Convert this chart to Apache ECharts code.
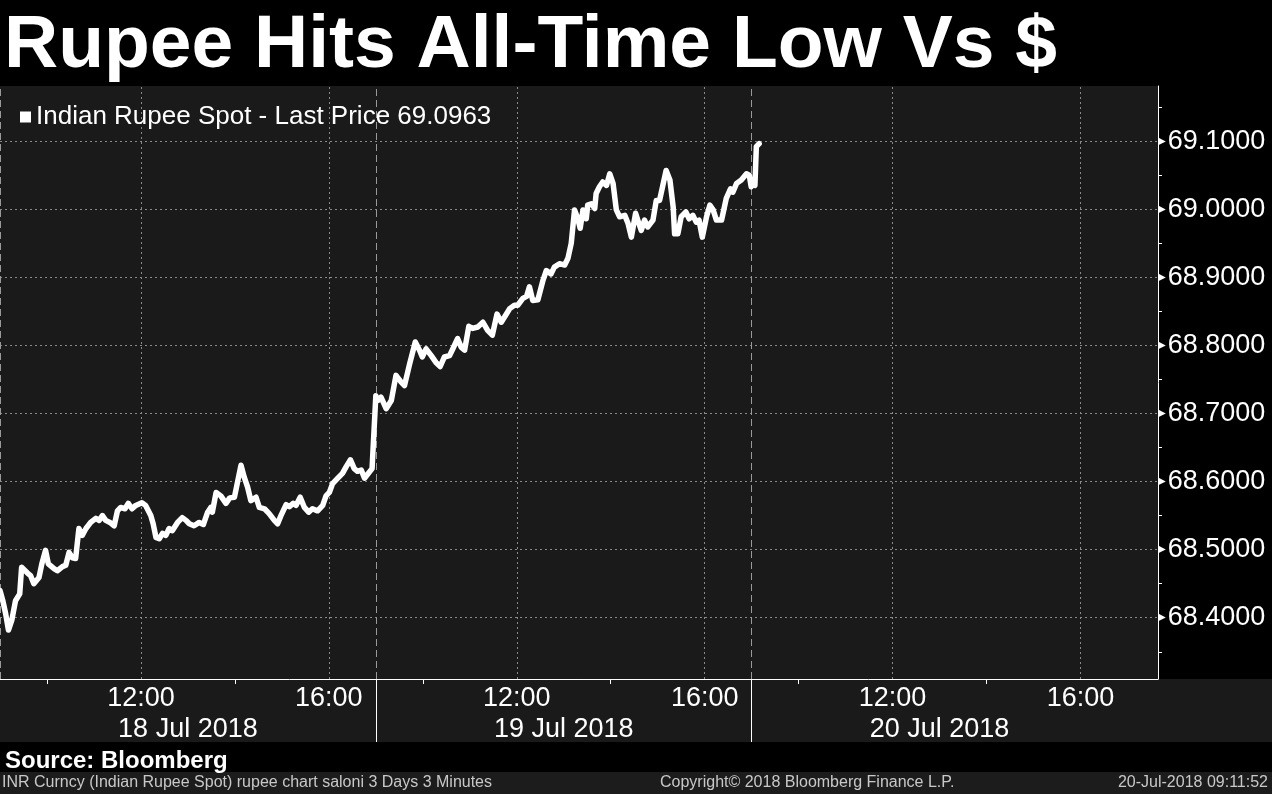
<!DOCTYPE html>
<html>
<head>
<meta charset="utf-8">
<script src="https://cdn.jsdelivr.net/npm/echarts@6/dist/echarts.min.js"></script>
<style>
  html, body { margin: 0; padding: 0; background: #000; }
  #chart { width: 1272px; height: 794px; }
</style>
</head>
<body>
<div id="chart"></div>
<script>
// ---------- DATA ----------
// Trading hours elapsed since 18 Jul 2018 09:00 (sessions 09:00-17:00)
const sessionHours = [
  0.00, 0.06, 0.12, 0.18, 0.25, 0.33, 0.42, 0.46, 0.58, 0.65,
  0.72, 0.83, 0.89, 0.97, 1.03, 1.15, 1.22, 1.33, 1.40, 1.47,
  1.54, 1.61, 1.68, 1.75, 1.83, 1.93, 2.04, 2.11, 2.18, 2.25,
  2.34, 2.43, 2.50, 2.57, 2.66, 2.73, 2.81, 2.89, 3.02, 3.10,
  3.21, 3.26, 3.32, 3.39, 3.46, 3.53, 3.60, 3.67, 3.78, 3.88,
  3.96,
  4.03, 4.13, 4.24, 4.33, 4.42, 4.49, 4.52, 4.60, 4.70, 4.81,
  4.89, 4.99, 5.13, 5.20, 5.27, 5.34, 5.45, 5.52, 5.63, 5.73,
  5.84, 5.91, 5.98, 6.09, 6.16, 6.24, 6.30, 6.39, 6.48, 6.57,
  6.65, 6.76, 6.87, 6.94, 7.01, 7.08, 7.19, 7.29, 7.37, 7.46,
  7.54, 7.61, 7.69, 7.76, 7.83, 7.92, 8.00,
  8.04, 8.11, 8.22, 8.33, 8.43, 8.54, 8.61, 8.72, 8.84, 8.93,
  8.99, 9.07, 9.18, 9.28, 9.37, 9.46, 9.57, 9.64, 9.74, 9.82,
  9.89, 9.98, 10.06, 10.17, 10.28, 10.38, 10.48, 10.58, 10.67, 10.78,
  10.85, 10.95, 11.02, 11.13, 11.21, 11.27, 11.34, 11.45, 11.56, 11.63,
  11.73, 11.80, 11.91,
  12.02, 12.09, 12.16, 12.23, 12.30, 12.35, 12.41, 12.48, 12.51, 12.59,
  12.66, 12.69, 12.76, 12.83, 12.91, 12.98, 13.05, 13.12, 13.19, 13.30,
  13.37, 13.44, 13.53, 13.60, 13.65, 13.72, 13.79, 13.90, 13.97, 14.04,
  14.11, 14.18, 14.26, 14.33, 14.36, 14.43, 14.50, 14.60, 14.67, 14.75,
  14.82, 14.88, 14.95, 15.04, 15.11, 15.18, 15.25, 15.36, 15.46, 15.55,
  15.60, 15.68, 15.78, 15.89, 15.95, 15.99, 16.03, 16.07, 16.10, 16.16
];
const spotPrice = [
  68.440, 68.425, 68.406, 68.382, 68.396, 68.425, 68.435, 68.474, 68.466, 68.462,
  68.450, 68.459, 68.479, 68.499, 68.479, 68.472, 68.469, 68.475, 68.477, 68.496,
  68.488, 68.487, 68.531, 68.521, 68.531, 68.540, 68.546, 68.543, 68.550, 68.543,
  68.540, 68.535, 68.557, 68.562, 68.560, 68.568, 68.560, 68.565, 68.569, 68.565,
  68.550, 68.538, 68.518, 68.516, 68.524, 68.521, 68.531, 68.528, 68.540, 68.547,
  68.543,
  68.538, 68.535, 68.540, 68.537, 68.555, 68.562, 68.555, 68.584, 68.579, 68.568,
  68.576, 68.577, 68.624, 68.606, 68.592, 68.572, 68.577, 68.562, 68.560, 68.553,
  68.543, 68.538, 68.550, 68.566, 68.563, 68.568, 68.565, 68.577, 68.562, 68.555,
  68.560, 68.557, 68.565, 68.579, 68.584, 68.597, 68.605, 68.612, 68.622, 68.632,
  68.619, 68.615, 68.617, 68.605, 68.611, 68.619, 68.726,
  68.719, 68.724, 68.707, 68.719, 68.756, 68.746, 68.741, 68.773, 68.805, 68.793,
  68.783, 68.795, 68.785, 68.775, 68.769, 68.783, 68.785, 68.795, 68.810, 68.797,
  68.793, 68.828, 68.825, 68.827, 68.834, 68.822, 68.815, 68.846, 68.834, 68.846,
  68.854, 68.859, 68.859, 68.869, 68.872, 68.886, 68.866, 68.867, 68.896, 68.910,
  68.905, 68.915, 68.920,
  68.918, 68.928, 68.950, 68.999, 68.986, 68.972, 68.999, 68.986, 69.006, 69.008,
  69.001, 69.023, 69.033, 69.040, 69.035, 69.052, 69.038, 68.999, 68.989, 68.991,
  68.979, 68.959, 68.994, 68.979, 68.969, 68.984, 68.974, 68.984, 69.013, 69.013,
  69.035, 69.057, 69.043, 69.003, 68.964, 68.964, 68.989, 68.996, 68.986, 68.991,
  68.981, 68.984, 68.959, 68.989, 69.006, 68.999, 68.984, 68.984, 69.016, 69.030,
  69.025, 69.038, 69.043, 69.052, 69.050, 69.033, 69.038, 69.035, 69.092, 69.0963
];
const seriesName = 'Indian Rupee Spot';
const sessionOpenHour = 9;
const sessionLength = 8;
const timeTickHours = [3, 7, 11, 15, 19, 23];          // 12:00 and 16:00 each day
const minorTimeTickHours = [1, 5, 9, 13, 17, 21];       // 10:00 and 14:00 each day
const dayBoundaryHours = [0, 8, 16];
const dayCenterHours = [4, 12, 20];
const dayLabels = ['18 Jul 2018', '19 Jul 2018', '20 Jul 2018'];
const priceTickLabels = [68.4, 68.5, 68.6, 68.7, 68.8, 68.9, 69.0, 69.1];
const priceMinorTicks = [68.35, 68.45, 68.55, 68.65, 68.75, 68.85, 68.95, 69.05, 69.15];

// ---------- CHART ----------
const chart = echarts.init(document.getElementById('chart'));
const FONT = 'Liberation Sans';
const lastPrice = spotPrice[spotPrice.length - 1];
const legendName = seriesName + ' - Last Price ' + lastPrice.toFixed(4);
const lineData = sessionHours.map((t, i) => [t, spotPrice[i]]);

const gridDot = { color: '#8a8a8a', width: 1, type: [2, 3] };
const dayDash = { color: '#9a9a9a', width: 1, type: [7, 4] };
const markData = []
  .concat(priceTickLabels.map(v => ({ yAxis: v, lineStyle: gridDot })))
  .concat(timeTickHours.map(t => ({ xAxis: t, lineStyle: gridDot })))
  .concat(dayBoundaryHours.map(t => ({ xAxis: t, lineStyle: dayDash })));

const option = {
  backgroundColor: '#000',
  animation: false,
  title: [
    {
      text: 'Rupee Hits All-Time Low Vs $',
      left: 4, top: 9, padding: 0,
      textStyle: { color: '#fff', fontSize: 75, fontWeight: 'bold', fontFamily: FONT }
    },
    {
      text: 'Source: Bloomberg',
      left: 5, top: 749, padding: 0,
      textStyle: { color: '#fff', fontSize: 24, fontWeight: 'bold', fontFamily: FONT }
    }
  ],
  graphic: [
    { type: 'rect', z: -10, left: 0, top: 679, shape: { width: 1272, height: 63 }, style: { fill: '#1a1a1a' } },
    { type: 'rect', z: -10, left: 0, top: 772, shape: { width: 1272, height: 22 }, style: { fill: '#1c1c1c' } },
    { type: 'text', left: 2, top: 775, style: { text: 'INR Curncy (Indian Rupee Spot) rupee chart saloni 3 Days 3 Minutes', fill: '#c8c8c8', font: '16px "Liberation Sans Narrow", "Liberation Sans"' } },
    { type: 'text', left: 660, top: 775, style: { text: 'Copyright\u00a9 2018 Bloomberg Finance L.P.', fill: '#c8c8c8', font: '16px "Liberation Sans Narrow", "Liberation Sans"' } },
    { type: 'text', right: 4, top: 775, style: { text: '20-Jul-2018 09:11:52', fill: '#c8c8c8', font: '16px "Liberation Sans Narrow", "Liberation Sans"' } }
  ],
  legend: {
    data: [legendName],
    left: 15, top: 99,
    icon: 'rect', itemWidth: 11, itemHeight: 11,
    selectedMode: false,
    textStyle: { color: '#fff', fontSize: 26, fontFamily: FONT, lineHeight: 26 }
  },
  grid: {
    left: 0, right: 114, top: 86, bottom: 115,
    show: true, backgroundColor: '#1a1a1a', borderWidth: 0
  },
  xAxis: [
    {
      type: 'value', min: 0, max: 24.65, position: 'bottom',
      axisLine: { show: true, onZero: false, lineStyle: { color: '#fff', width: 1 } },
      axisTick: { show: true, customValues: minorTimeTickHours, length: 5, lineStyle: { color: '#fff' } },
      axisLabel: {
        customValues: timeTickHours, margin: 6,
        color: '#fff', fontSize: 27, fontFamily: FONT,
        formatter: t => (sessionOpenHour + (t % sessionLength)) + ':00'
      },
      splitLine: { show: false }
    },
    {
      type: 'value', min: 0, max: 24.65, position: 'bottom',
      axisLine: { show: false, onZero: false },
      axisTick: { show: true, customValues: dayBoundaryHours.slice(1), length: 63, lineStyle: { color: '#fff' } },
      axisLabel: {
        customValues: dayCenterHours, margin: 37,
        color: '#fff', fontSize: 27, fontFamily: FONT,
        formatter: t => dayLabels[Math.floor(t / sessionLength)]
      },
      splitLine: { show: false }
    }
  ],
  yAxis: {
    type: 'value', position: 'right', min: 68.31, max: 69.181,
    axisLine: { show: true, onZero: false, lineStyle: { color: '#fff', width: 1 } },
    axisTick: { show: true, customValues: priceMinorTicks, length: 4, lineStyle: { color: '#fff', width: 1 } },
    axisLabel: {
      customValues: priceTickLabels, margin: 0,
      formatter: v => '{tri|\u25B6}{num|' + v.toFixed(4) + '}',
      rich: {
        tri: { color: '#fff', fontSize: 10, fontFamily: 'DejaVu Sans' },
        num: { color: '#fff', fontSize: 27, fontFamily: FONT, padding: [0, 0, 0, 2] }
      }
    },
    splitLine: { show: false }
  },
  series: [
    {
      name: legendName,
      type: 'line',
      data: lineData,
      showSymbol: false,
      z: 2,
      color: '#fff',
      itemStyle: { color: '#fff' },
      lineStyle: { color: '#fff', width: 5.5, cap: 'round', join: 'round' },
      markLine: {
        silent: true, z: 1, animation: false,
        symbol: ['none', 'none'],
        label: { show: false },
        emphasis: { disabled: true },
        data: markData
      }
    }
  ]
};
chart.setOption(option);
</script>
</body>
</html>
